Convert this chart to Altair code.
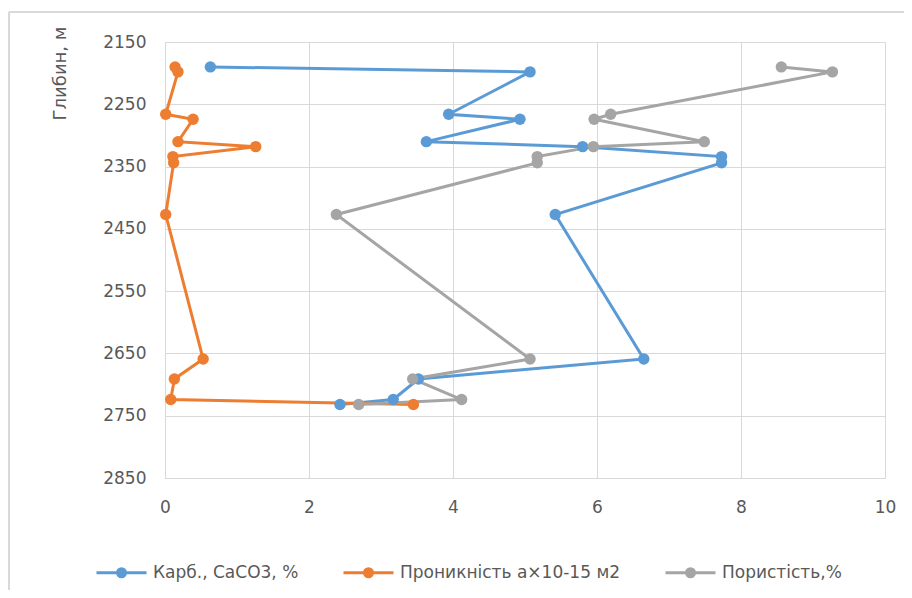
import altair as alt
import pandas as pd

depth = [2190, 2198, 2266, 2274, 2310, 2318, 2334, 2344, 2427, 2659, 2691, 2724, 2732]
carb = [0.63, 5.07, 3.94, 4.93, 3.63, 5.80, 7.73, 7.73, 5.42, 6.65, 3.52, 3.17, 2.43]
perm = [0.14, 0.18, 0.01, 0.39, 0.18, 1.26, 0.11, 0.12, 0.01, 0.53, 0.13, 0.08, 3.45]
poro = [8.56, 9.27, 6.19, 5.96, 7.49, 5.95, 5.17, 5.17, 2.38, 5.07, 3.44, 4.12, 2.69]

names = ["Карб., СаСО3, %", "Проникність а×10-15 м2", "Пористість,%"]
colors = ["#5B9BD5", "#ED7D31", "#A5A5A5"]
x_ticks = [0, 2, 4, 6, 8, 10]
y_ticks = [2150, 2250, 2350, 2450, 2550, 2650, 2750, 2850]

rows = []
for name, vals in zip(names, [carb, perm, poro]):
    for i, (d, v) in enumerate(zip(depth, vals)):
        rows.append({"series": name, "depth": d, "value": v, "idx": i})
df = pd.DataFrame(rows)

FONT = "DejaVu Sans"
LBL = "#595959"
GRID = "#d9d9d9"

legend_path = "M-1,0H1M-0.16,0A0.16,0.16 0 1,1 0.16,0A0.16,0.16 0 1,1 -0.16,0Z"

legend = alt.Legend(
    title=None,
    orient="none",
    direction="horizontal",
    legendX=-70,
    legendY=504,
    symbolType=legend_path,
    symbolSize=2500,
    symbolStrokeWidth=3,
    labelOffset=5,
    columnPadding=38,
    labelFont=FONT,
    labelFontSize=17,
    labelColor=LBL,
    labelLimit=400,
)
color = alt.Color("series:N", scale=alt.Scale(domain=names, range=colors), sort=names, legend=legend)

x_enc = alt.X(
    "value:Q",
    scale=alt.Scale(domain=[0, 10], nice=False, zero=False),
    axis=alt.Axis(values=x_ticks, title=None, grid=True, gridColor=GRID, domain=False,
                  ticks=False, labelPadding=21, labelFont=FONT, labelFontSize=17,
                  labelColor=LBL, format="d", labelFlush=False),
)
y_enc = alt.Y(
    "depth:Q",
    scale=alt.Scale(domain=[2150, 2850], reverse=True, nice=False, zero=False),
    axis=alt.Axis(values=y_ticks, title="Глибин, м", grid=True, gridColor=GRID, domain=False,
                  ticks=False, labelPadding=19, labelFont=FONT, labelFontSize=17,
                  labelColor=LBL, titleFont=FONT, titleFontSize=18, titleFontWeight="normal",
                  titleColor=LBL, titleAngle=270, titleAlign="center", titleBaseline="middle",
                  titleX=-105, titleY=31, format="d", labelFlush=False),
)

base = alt.Chart(df)
lines = base.mark_line(strokeWidth=3).encode(
    x=x_enc, y=y_enc, color=color, order=alt.Order("idx:Q"), detail="series:N"
)
points = base.mark_point(filled=True, size=130, opacity=1).encode(
    x="value:Q", y="depth:Q", color=color
)

frame_v = alt.Chart(pd.DataFrame({"a": [0]})).mark_rule(color=GRID, strokeWidth=2).encode(
    x=alt.value(-156), y=alt.value(-30), y2=alt.value(600)
)
frame_h = alt.Chart(pd.DataFrame({"a": [0]})).mark_rule(color=GRID, strokeWidth=2).encode(
    x=alt.value(-156), x2=alt.value(900), y=alt.value(-30)
)

chart = alt.layer(frame_v, frame_h, lines, points).properties(
    width=720,
    height=436,
    autosize=alt.AutoSizeParams(type="none"),
    padding={"left": 157, "top": 34, "right": 19, "bottom": 112},
    background="white",
).configure_view(stroke=GRID, strokeWidth=1)

chart.save("out.html", embed_options={"renderer": "svg", "actions": False})
